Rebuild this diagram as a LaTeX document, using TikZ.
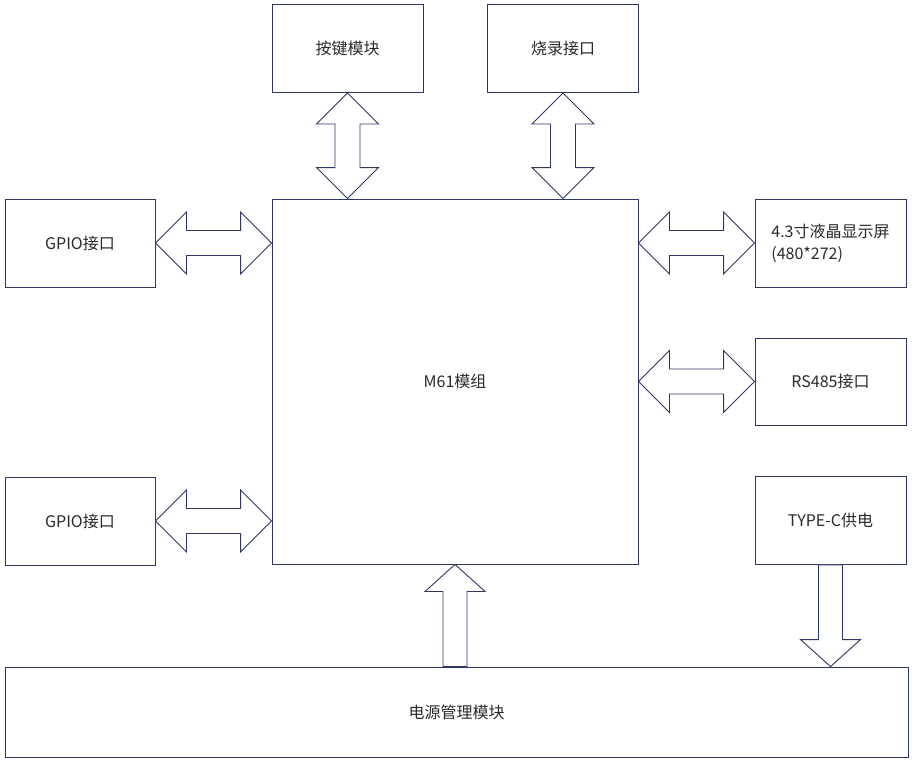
\documentclass[tikz,border=0pt]{standalone}
\usepackage{fontspec}
\setmainfont{Noto Sans CJK SC}
\usetikzlibrary{calc}
\definecolor{lineC}{HTML}{2E3766}
\definecolor{txtC}{HTML}{2B2B2B}
\tikzset{
  box/.style={draw=lineC, line width=0.9pt, fill=white, rectangle, inner sep=0pt,
    text=txtC, font=\fontsize{16}{22}\selectfont, align=center},
  blockarrow/.style={draw=lineC, line width=0.9pt, fill=white, line join=miter},
}
% horizontal double arrow between two points (same y)
\newcommand\hdarrow[2]{%
  \path[blockarrow] let \p1=(#1), \p2=(#2) in
    (\x1,\y1) -- (\x1+31pt,\y1+31pt) -- (\x1+31pt,\y1+12.5pt) -- (\x2-31pt,\y1+12.5pt)
    -- (\x2-31pt,\y1+31pt) -- (\x2,\y1) -- (\x2-31pt,\y1-31pt) -- (\x2-31pt,\y1-12.5pt)
    -- (\x1+31pt,\y1-12.5pt) -- (\x1+31pt,\y1-31pt) -- cycle;}
% vertical double arrow, #1 top, #2 bottom
\newcommand\vdarrow[2]{%
  \path[blockarrow] let \p1=(#1), \p2=(#2) in
    (\x1,\y1) -- (\x1+31pt,\y1-31pt) -- (\x1+12.5pt,\y1-31pt) -- (\x1+12.5pt,\y2+31pt)
    -- (\x1+31pt,\y2+31pt) -- (\x1,\y2) -- (\x1-31pt,\y2+31pt) -- (\x1-12.5pt,\y2+31pt)
    -- (\x1-12.5pt,\y1-31pt) -- (\x1-31pt,\y1-31pt) -- cycle;}
% single vertical arrow, tip #1, tail #2
\newcommand\vsarrow[2]{%
  \path[blockarrow] let \p1=(#1), \p2=(#2), \n1={\y2<\y1 ? -1 : 1} in
    (\x1,\y1) -- (\x1+30pt,\y1+\n1*27pt) -- (\x1+12pt,\y1+\n1*27pt) -- (\x1+12pt,\y2)
    -- (\x1-12pt,\y2) -- (\x1-12pt,\y1+\n1*27pt) -- (\x1-30pt,\y1+\n1*27pt) -- cycle;}
\begin{document}
\begin{tikzpicture}[x=1pt,y=1pt]
\useasboundingbox[fill=white] (0,0) rectangle (913,-764);
\node[box, minimum width=151, minimum height=88] (key) at (347.5,-48.5) {按键模块};
\node[box, minimum width=151, minimum height=88] (burn) at (563,-48.5) {烧录接口};
\node[box, minimum width=366, minimum height=365] (m61) at (455,-381.5) {M61模组};
\node[box, minimum width=150, minimum height=88] (gpio1) at (80,-243) {GPIO接口};
\node[box, minimum width=150, minimum height=88] (gpio2) at (80,-521) {GPIO接口};
\node[box, minimum width=151, minimum height=88, align=left] (lcd) at (830.5,-243) {4.3寸液晶显示屏\\(480*272)};
\node[box, minimum width=151, minimum height=87] (rs485) at (830.5,-381.5) {RS485接口};
\node[box, minimum width=151, minimum height=88] (typec) at (830.5,-520.5) {TYPE-C供电};
\node[box, minimum width=903, minimum height=90] (power) at (456.5,-712) {电源管理模块};

\vdarrow{key.south}{key.south |- m61.north}
\vdarrow{burn.south}{burn.south |- m61.north}
\hdarrow{gpio1.east}{m61.west |- gpio1.east}
\hdarrow{gpio2.east}{m61.west |- gpio2.east}
\hdarrow{m61.east |- lcd.west}{lcd.west}
\hdarrow{m61.east |- rs485.west}{rs485.west}
\vsarrow{m61.south}{m61.south |- power.north}
\vsarrow{typec.south |- power.north}{typec.south}
\end{tikzpicture}
\end{document}
